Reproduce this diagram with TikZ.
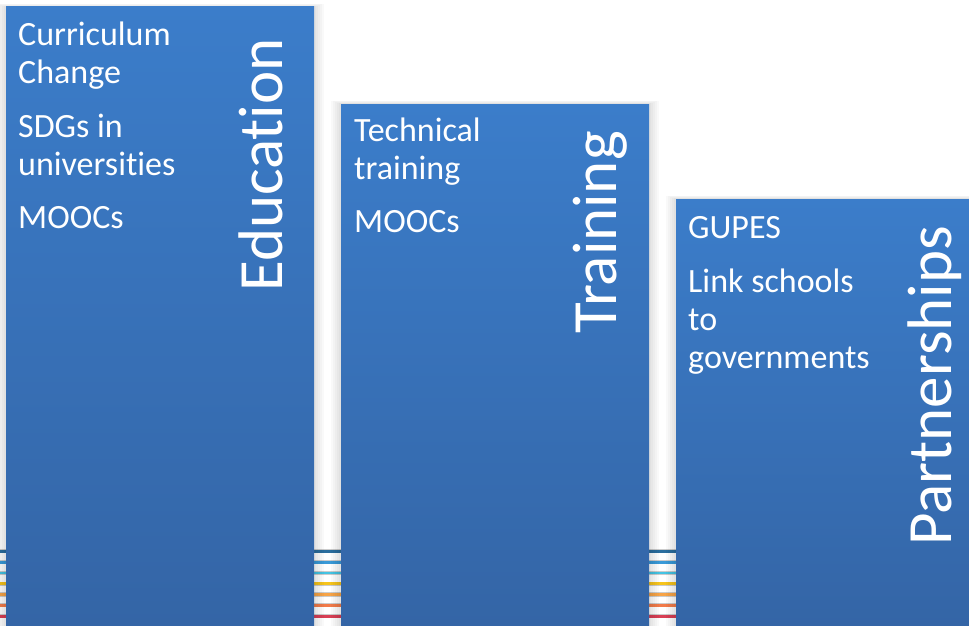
\documentclass[tikz,border=0pt]{standalone}
\usepackage{fontspec}
\setmainfont{Carlito}[Ligatures=NoCommon]
\definecolor{barTop}{HTML}{3B7DCA}
\definecolor{barBottom}{HTML}{3465A6}
\definecolor{sdgA}{HTML}{2B6E9E}
\definecolor{sdgB}{HTML}{3A9AD8}
\definecolor{sdgC}{HTML}{44C4E4}
\definecolor{sdgD}{HTML}{F6C41C}
\definecolor{sdgE}{HTML}{F7A447}
\definecolor{sdgF}{HTML}{F27B4A}
\definecolor{sdgG}{HTML}{D94055}
\tikzset{
  bar/.style={top color=barTop, bottom color=barBottom, draw=none},
  barshadow/.style={fill=black, opacity=0.022},
  stripe/.style={line width=2.8pt, preaction={draw, line width=4.2pt, opacity=0.2}},
  item/.style={anchor=base west, align=left, text=white, inner sep=0pt,
    font=\fontsize{34}{38}\selectfont},
  heading/.style={rotate=90, anchor=base east, text=white, inner sep=0pt,
    font=\fontsize{63}{70}\selectfont}
}
\begin{document}
\begin{tikzpicture}[x=1pt,y=-1pt]
  \useasboundingbox (0,0) rectangle (969,626);
  \fill[white] (0,0) rectangle (969,626);
  % coloured lines behind the bars
  \foreach \c [count=\i] in {sdgA,sdgB,sdgC,sdgD,sdgE,sdgF,sdgG}
    \draw[stripe, \c] (0,540.5+10.8*\i) -- (969,540.5+10.8*\i);
  % soft shadows
  \foreach \k in {2,4,...,10} {
    \fill[barshadow] (6-\k,7-\k/3) rectangle (314+\k,626);
    \fill[barshadow] (341-\k,104-\k/3) rectangle (649+\k,626);
    \fill[barshadow] (676-\k,199-\k/3) rectangle (975,626);
  }
  % bars
  \fill[bar] (6,7) rectangle (314,626);
  \fill[bar] (341,104) rectangle (649,626);
  \fill[bar] (676,199) rectangle (975,626);
  % texts (base = last line)
  \node[item] (eduA) at (18,84) {Curriculum\\Change};
  \node[item] (eduB) at (18,175) {SDGs in\\universities};
  \node[item] (eduC) at (18,228) {MOOCs};
  \node[heading] (edu) at (282,38) {Education};
  \node[item] (trnA) at (354,179) {Technical\\training};
  \node[item] (trnB) at (354,232) {MOOCs};
  \node[heading] (trn) at (616,131) {Training};
  \node[item] (parA) at (688,238) {GUPES};
  \node[item] (parB) at (688,368) {Link schools\\to\\governments};
  \node[heading] (par) at (951,226) {Partnerships};
\end{tikzpicture}
\end{document}
